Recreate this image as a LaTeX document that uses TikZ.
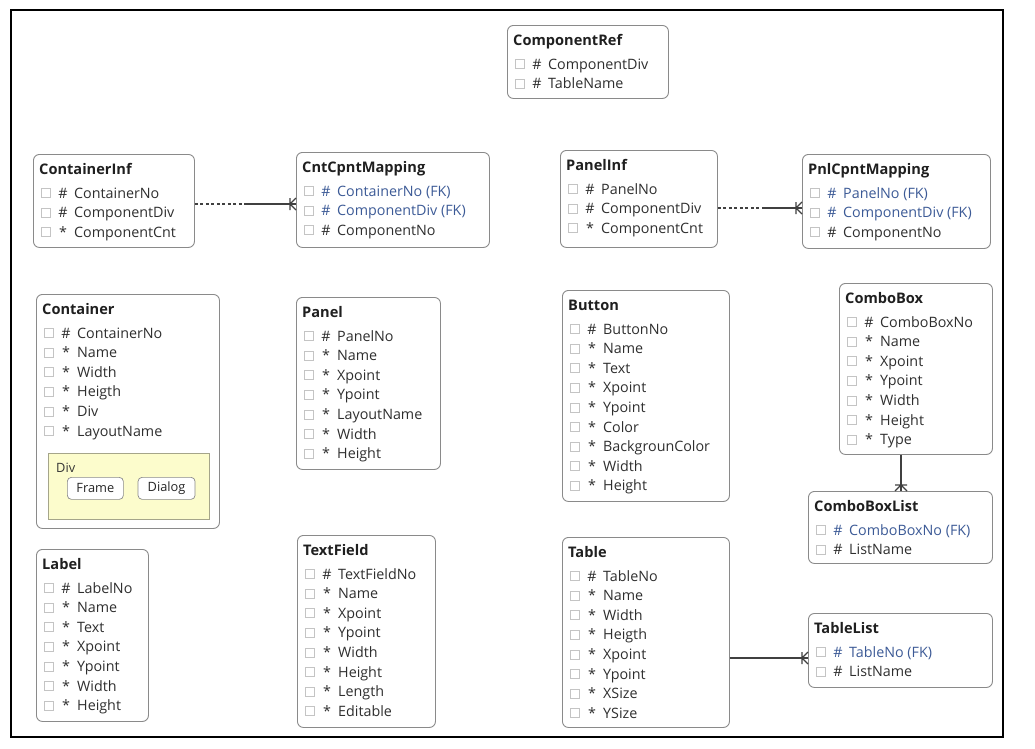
\documentclass[tikz,border=0pt]{standalone}
\usepackage{fontspec}
\setmainfont{Open Sans}
\usetikzlibrary{positioning,calc}

\definecolor{boxgray}{HTML}{8A8A8A}
\definecolor{tickgray}{HTML}{C4C4C4}
\definecolor{fieldtext}{HTML}{2E2E2E}
\definecolor{fkblue}{HTML}{3C5A96}
\definecolor{divfill}{HTML}{FCFCCC}
\definecolor{divline}{HTML}{A5A58A}
\definecolor{linkgray}{HTML}{404040}

\tikzset{
    entity/.style={
        draw=boxgray,
        rounded corners=6pt,
        line width=0.9pt,
        anchor=north west,
        inner sep=0pt
    },
    enttitle/.style={
        anchor=base west,
        inner sep=0pt,
        font=\bfseries\fontsize{14.6}{17}\selectfont,
        text=black!88
    },
    tickbox/.style={
        draw=tickgray,
        line width=0.6pt,
        minimum size=9pt,
        inner sep=0pt,
        anchor=west
    },
    fieldname/.style={
        anchor=base west,
        inner sep=0pt,
        font=\fontsize{14.3}{17}\selectfont
    },
    keysym/.style={fieldname, anchor=base},
    divpanel/.style={
        draw=divline,
        fill=divfill,
        line width=0.8pt,
        anchor=north west,
        inner sep=0pt
    },
    uibtn/.style={
        draw=boxgray,
        fill=white,
        rounded corners=4pt,
        line width=0.7pt,
        anchor=north west,
        minimum height=22pt,
        inner sep=0pt,
        font=\fontsize{12.8}{14}\selectfont,
        text=black!85
    },
    link/.style={draw=linkgray, line width=1.2pt},
    crow/.pic={
        \draw[link] (-6pt,-6pt) -- (-6pt,6pt)
            (-6pt,0pt) -- (0pt,-6pt)
            (-6pt,0pt) -- (0pt,6pt);
    }
}

% symbol and colour of a row kind: k = key, a = attribute, f = foreign key
\def\symk{\#}
\def\syma{*}
\def\symf{\#}
\def\colk{fieldtext}
\def\cola{fieldtext}
\def\colf{fkblue}

% entity box: name, x, y, width, height, title
\newcommand{\entity}[6]{
    \node[entity, minimum width=#4pt, minimum height=#5pt] (#1) at (#2,#3) {};
    \node[enttitle] (#1-title) at ([xshift=6pt, yshift=-20pt]#1.north west) {#6};
}
% rows of an entity: name, list of kind/field
\newcommand{\fields}[2]{
    \foreach \kind/\field [count=\i] in {#2} {
        \node[tickbox] (#1-box\i) at ([xshift=7.5pt, yshift={-19.6pt*\i-19.4pt}]#1.north west) {};
        \node[keysym, text=\csname col\kind\endcsname] (#1-sym\i)
            at ([xshift=30pt, yshift={-19.6pt*\i-24.4pt}]#1.north west) {\csname sym\kind\endcsname};
        \node[fieldname, text=\csname col\kind\endcsname] (#1-f\i)
            at ([xshift=41pt, yshift={-19.6pt*\i-24.4pt}]#1.north west) {\field};
    }
}

\begin{document}
\begin{tikzpicture}[x=1pt, y=-1pt]
    \useasboundingbox (0,0) rectangle (1035,748);
    \draw[line width=1.4pt] (11,10) rectangle (1003,737);

    % top row
    \entity{ComponentRef}{507}{25}{161}{73}{ComponentRef}
    \fields{ComponentRef}{k/ComponentDiv, k/TableName}

    \entity{ContainerInf}{33}{154}{161}{93}{ContainerInf}
    \fields{ContainerInf}{k/ContainerNo, k/ComponentDiv, a/ComponentCnt}

    \entity{CntCpntMapping}{296}{152}{193}{95}{CntCpntMapping}
    \fields{CntCpntMapping}{f/ContainerNo (FK), f/ComponentDiv (FK), k/ComponentNo}

    \entity{PanelInf}{560}{150}{157}{97}{PanelInf}
    \fields{PanelInf}{k/PanelNo, k/ComponentDiv, a/ComponentCnt}

    \entity{PnlCpntMapping}{802}{154}{188}{94}{PnlCpntMapping}
    \fields{PnlCpntMapping}{f/PanelNo (FK), f/ComponentDiv (FK), k/ComponentNo}

    % middle row
    \entity{Container}{36}{294}{183}{234}{Container}
    \fields{Container}{k/ContainerNo, a/Name, a/Width, a/Heigth, a/Div, a/LayoutName}
    \node[divpanel, minimum width=161pt, minimum height=66pt] (div) at (48,453) {};
    \node[fieldname, font=\fontsize{12.8}{14}\selectfont, text=black!80] (div-label)
        at ([xshift=8pt, yshift=-19.5pt]div.north west) {Div};
    \node[uibtn, minimum width=56pt] (frame) at (67,477) {Frame};
    \node[uibtn, minimum width=57pt, right=14pt of frame.north east, anchor=north west] (dialog) {Dialog};

    \entity{Panel}{296}{297}{144}{172}{Panel}
    \fields{Panel}{k/PanelNo, a/Name, a/Xpoint, a/Ypoint, a/LayoutName, a/Width, a/Height}

    \entity{Button}{562}{290}{167}{211}{Button}
    \fields{Button}{k/ButtonNo, a/Name, a/Text, a/Xpoint, a/Ypoint, a/Color, a/BackgrounColor, a/Width, a/Height}

    \entity{ComboBox}{839}{283}{153}{171}{ComboBox}
    \fields{ComboBox}{k/ComboBoxNo, a/Name, a/Xpoint, a/Ypoint, a/Width, a/Height, a/Type}

    \entity{ComboBoxList}{808}{491}{184}{72}{ComboBoxList}
    \fields{ComboBoxList}{f/ComboBoxNo (FK), k/ListName}

    % bottom row
    \entity{Label}{36}{549}{112}{172}{Label}
    \fields{Label}{k/LabelNo, a/Name, a/Text, a/Xpoint, a/Ypoint, a/Width, a/Height}

    \entity{TextField}{297}{535}{138}{192}{TextField}
    \fields{TextField}{k/TextFieldNo, a/Name, a/Xpoint, a/Ypoint, a/Width, a/Height, a/Length, a/Editable}

    \entity{Table}{562}{537}{167}{190}{Table}
    \fields{Table}{k/TableNo, a/Name, a/Width, a/Heigth, a/Xpoint, a/Ypoint, a/XSize, a/YSize}

    \entity{TableList}{808}{613}{184}{74}{TableList}
    \fields{TableList}{f/TableNo (FK), k/ListName}

    % relations
    \coordinate (c1) at (245,204);
    \draw[link, dash pattern=on 3pt off 2.5pt] (ContainerInf.east |- c1) -- (c1);
    \draw[link] (c1) -- (CntCpntMapping.west |- c1);
    \pic at (CntCpntMapping.west |- c1) {crow};

    \coordinate (c2) at (763,208);
    \draw[link, dash pattern=on 3pt off 2.5pt] (PanelInf.east |- c2) -- (c2);
    \draw[link] (c2) -- (PnlCpntMapping.west |- c2);
    \pic at (PnlCpntMapping.west |- c2) {crow};

    \coordinate (c3) at (901,0);
    \draw[link] (ComboBox.south -| c3) -- (ComboBoxList.north -| c3);
    \pic[rotate=-90] at (ComboBoxList.north -| c3) {crow};

    \coordinate (c4) at (0,658);
    \draw[link] (Table.east |- c4) -- (TableList.west |- c4);
    \pic at (TableList.west |- c4) {crow};
\end{tikzpicture}
\end{document}
